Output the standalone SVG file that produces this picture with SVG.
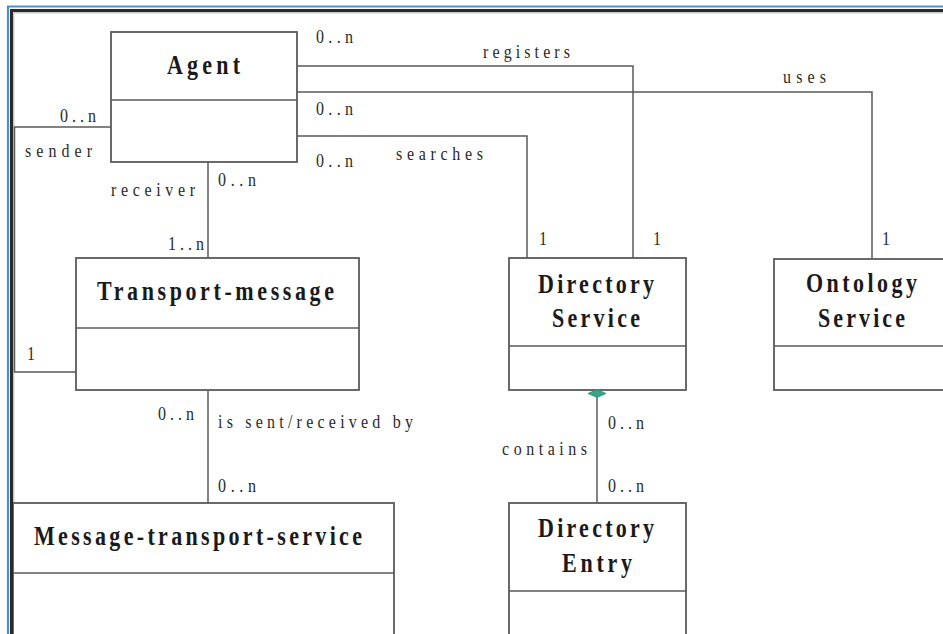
<svg xmlns="http://www.w3.org/2000/svg" width="943" height="634" viewBox="0 0 943 634">
<style>
.box{fill:#fff;stroke:#5a5a5a;stroke-width:1.8}
.div{stroke:#5a5a5a;stroke-width:1.6}
.cn{fill:none;stroke:#5a5a5a;stroke-width:1.5}
.cls{font-family:"Liberation Serif","Times New Roman",serif;font-weight:bold;font-size:22px;fill:#1a1a1a}
.lbl{font-family:"Liberation Serif","Times New Roman",serif;font-size:16px;fill:#2a2a2a}
</style>
<rect width="943" height="634" fill="#fff"/>
<g id="frame">
<path d="M8,640 V6.5 H950" fill="none" stroke="#4a8fd6" stroke-width="2.2"/>
<path d="M11.5,640 V10.5 H950" fill="none" stroke="#2a2a2a" stroke-width="3"/>
<path d="M13.8,640 V12.8 H950" fill="none" stroke="#b0b0b0" stroke-width="1"/>
</g>
<g id="agent">
<rect class="box" x="111" y="32" width="186" height="130"/>
<line class="div" x1="111" y1="100" x2="297" y2="100"/>
<text class="cls" transform="translate(167,74) scale(1,1.25)" textLength="73">Agent</text>
</g>
<g id="transport-message">
<rect class="box" x="76" y="258" width="283" height="132"/>
<line class="div" x1="76" y1="328" x2="359" y2="328"/>
<text class="cls" transform="translate(97,300) scale(1,1.25)" textLength="237">Transport-message</text>
</g>
<g id="directory-service">
<rect class="box" x="509" y="258" width="177" height="132"/>
<line class="div" x1="509" y1="346" x2="686" y2="346"/>
<text class="cls" transform="translate(538,293) scale(1,1.25)" textLength="116">Directory</text>
<text class="cls" transform="translate(552,327) scale(1,1.25)" textLength="88">Service</text>
</g>
<g id="ontology-service">
<rect class="box" x="774" y="259" width="180" height="131"/>
<line class="div" x1="774" y1="346" x2="954" y2="346"/>
<text class="cls" transform="translate(806,292) scale(1,1.25)" textLength="111">Ontology</text>
<text class="cls" transform="translate(818,327) scale(1,1.25)" textLength="87">Service</text>
</g>
<g id="message-transport-service">
<rect class="box" x="13" y="503" width="381" height="140"/>
<line class="div" x1="13" y1="573" x2="394" y2="573"/>
<text class="cls" transform="translate(34,545) scale(1,1.25)" textLength="328">Message-transport-service</text>
</g>
<g id="directory-entry">
<rect class="box" x="509" y="503" width="177" height="140"/>
<line class="div" x1="509" y1="591" x2="686" y2="591"/>
<text class="cls" transform="translate(538,537) scale(1,1.25)" textLength="116">Directory</text>
<text class="cls" transform="translate(562,572) scale(1,1.25)" textLength="70">Entry</text>
</g>
<g id="connectors">
<path class="cn" d="M297,66 H633 V258"/>
<path class="cn" d="M297,92 H872 V259"/>
<path class="cn" d="M297,136 H527 V258"/>
<path class="cn" d="M111,127 H14.5 V372 H76"/>
<path class="cn" d="M208,162 V258"/>
<path class="cn" d="M208,390 V503"/>
<path class="cn" d="M597,397 V503"/>
<polygon points="588,393.5 597,389.5 606,393.5 597,397.5" fill="#35a58a" stroke="#2e8f78" stroke-width="0.8"/>
</g>
<g id="labels" class="lbl">
<text transform="translate(316,43) scale(1,1.2)" textLength="37">0..n</text>
<text transform="translate(483,58) scale(1,1.2)" textLength="87">registers</text>
<text transform="translate(316,115) scale(1,1.2)" textLength="37">0..n</text>
<text transform="translate(396,160) scale(1,1.2)" textLength="87">searches</text>
<text transform="translate(316,167) scale(1,1.2)" textLength="37">0..n</text>
<text transform="translate(539,245) scale(1,1.2)">1</text>
<text transform="translate(653,245) scale(1,1.2)">1</text>
<text transform="translate(783,83) scale(1,1.2)" textLength="43">uses</text>
<text transform="translate(882,245) scale(1,1.2)">1</text>
<text transform="translate(60,122) scale(1,1.2)" textLength="36">0..n</text>
<text transform="translate(25,157) scale(1,1.2)" textLength="67">sender</text>
<text transform="translate(111,196) scale(1,1.2)" textLength="84">receiver</text>
<text transform="translate(218,186) scale(1,1.2)" textLength="38">0..n</text>
<text transform="translate(168,250) scale(1,1.2)" textLength="36">1..n</text>
<text transform="translate(27,360) scale(1,1.2)">1</text>
<text transform="translate(158,420) scale(1,1.2)" textLength="36">0..n</text>
<text transform="translate(218,428) scale(1,1.2)" textLength="195">is sent/received by</text>
<text transform="translate(218,492) scale(1,1.2)" textLength="38">0..n</text>
<text transform="translate(608,429) scale(1,1.2)" textLength="36">0..n</text>
<text transform="translate(502,455) scale(1,1.2)" textLength="85">contains</text>
<text transform="translate(608,492) scale(1,1.2)" textLength="36">0..n</text>
</g>
<path d="M11.5,640 V10.5" fill="none" stroke="#2a2a2a" stroke-width="3"/>
</svg>
